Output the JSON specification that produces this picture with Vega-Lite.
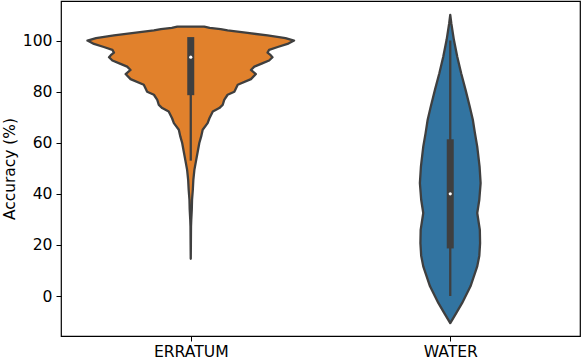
{
  "$schema": "https://vega.github.io/schema/vega-lite/v6.json",
  "width": 519,
  "height": 335,
  "autosize": {"type": "none"},
  "padding": {"left": 61, "top": 1, "right": 1, "bottom": 27},
  "background": "white",
  "config": {
    "view": {"stroke": "#000000", "strokeWidth": 1.2},
    "font": "DejaVu Sans"
  },
  "datasets": {
    "violin": [
      {"cat": "ERRATUM", "v": 14.6, "w": 0},
      {"cat": "ERRATUM", "v": 20, "w": 0.0005},
      {"cat": "ERRATUM", "v": 27.2, "w": 0.001},
      {"cat": "ERRATUM", "v": 30, "w": 0.002},
      {"cat": "ERRATUM", "v": 33.8, "w": 0.004},
      {"cat": "ERRATUM", "v": 37.7, "w": 0.005},
      {"cat": "ERRATUM", "v": 41.6, "w": 0.008},
      {"cat": "ERRATUM", "v": 45.5, "w": 0.010},
      {"cat": "ERRATUM", "v": 49.4, "w": 0.014},
      {"cat": "ERRATUM", "v": 52.7, "w": 0.020},
      {"cat": "ERRATUM", "v": 56.6, "w": 0.027},
      {"cat": "ERRATUM", "v": 59.9, "w": 0.033},
      {"cat": "ERRATUM", "v": 62.4, "w": 0.040},
      {"cat": "ERRATUM", "v": 65.1, "w": 0.046},
      {"cat": "ERRATUM", "v": 67.7, "w": 0.065},
      {"cat": "ERRATUM", "v": 69.6, "w": 0.072},
      {"cat": "ERRATUM", "v": 72.2, "w": 0.085},
      {"cat": "ERRATUM", "v": 73.6, "w": 0.110},
      {"cat": "ERRATUM", "v": 74.8, "w": 0.123},
      {"cat": "ERRATUM", "v": 76.8, "w": 0.129},
      {"cat": "ERRATUM", "v": 78.8, "w": 0.142},
      {"cat": "ERRATUM", "v": 80.0, "w": 0.168},
      {"cat": "ERRATUM", "v": 82.7, "w": 0.181},
      {"cat": "ERRATUM", "v": 84.9, "w": 0.232},
      {"cat": "ERRATUM", "v": 86.9, "w": 0.251},
      {"cat": "ERRATUM", "v": 88.5, "w": 0.232},
      {"cat": "ERRATUM", "v": 89.8, "w": 0.245},
      {"cat": "ERRATUM", "v": 91.0, "w": 0.273},
      {"cat": "ERRATUM", "v": 92.2, "w": 0.302},
      {"cat": "ERRATUM", "v": 93.5, "w": 0.315},
      {"cat": "ERRATUM", "v": 94.3, "w": 0.308},
      {"cat": "ERRATUM", "v": 95.3, "w": 0.296},
      {"cat": "ERRATUM", "v": 96.4, "w": 0.302},
      {"cat": "ERRATUM", "v": 97.5, "w": 0.335},
      {"cat": "ERRATUM", "v": 98.7, "w": 0.373},
      {"cat": "ERRATUM", "v": 100.0, "w": 0.398},
      {"cat": "ERRATUM", "v": 101.0, "w": 0.365},
      {"cat": "ERRATUM", "v": 102.0, "w": 0.296},
      {"cat": "ERRATUM", "v": 103.0, "w": 0.219},
      {"cat": "ERRATUM", "v": 104.0, "w": 0.142},
      {"cat": "ERRATUM", "v": 104.5, "w": 0.115},
      {"cat": "ERRATUM", "v": 105.0, "w": 0.073},
      {"cat": "ERRATUM", "v": 105.5, "w": 0.052},
      {"cat": "WATER", "v": -10.6, "w": 0},
      {"cat": "WATER", "v": -9.9, "w": 0.004},
      {"cat": "WATER", "v": -6.7, "w": 0.023},
      {"cat": "WATER", "v": -2.7, "w": 0.046},
      {"cat": "WATER", "v": 3.8, "w": 0.078},
      {"cat": "WATER", "v": 11.6, "w": 0.104},
      {"cat": "WATER", "v": 15.8, "w": 0.112},
      {"cat": "WATER", "v": 20.7, "w": 0.115},
      {"cat": "WATER", "v": 25.9, "w": 0.114},
      {"cat": "WATER", "v": 32.5, "w": 0.104},
      {"cat": "WATER", "v": 37.7, "w": 0.112},
      {"cat": "WATER", "v": 44.2, "w": 0.117},
      {"cat": "WATER", "v": 50.7, "w": 0.113},
      {"cat": "WATER", "v": 58.5, "w": 0.104},
      {"cat": "WATER", "v": 63.8, "w": 0.095},
      {"cat": "WATER", "v": 69.0, "w": 0.087},
      {"cat": "WATER", "v": 74.2, "w": 0.075},
      {"cat": "WATER", "v": 80.7, "w": 0.059},
      {"cat": "WATER", "v": 87.2, "w": 0.042},
      {"cat": "WATER", "v": 93.7, "w": 0.027},
      {"cat": "WATER", "v": 100.3, "w": 0.014},
      {"cat": "WATER", "v": 106.8, "w": 0.004},
      {"cat": "WATER", "v": 110.1, "w": 0}
    ],
    "box": [
      {"cat": "ERRATUM", "lo": 53, "q1": 80, "med": 93.5, "q3": 100, "hi": 100},
      {"cat": "WATER", "lo": 0, "q1": 20, "med": 40, "q3": 60, "hi": 100}
    ]
  },
  "layer": [
    {
      "data": {"name": "violin"},
      "transform": [
        {"calculate": "(datum.cat == 'ERRATUM' ? 0 : 1) - datum.w", "as": "left"},
        {"calculate": "(datum.cat == 'ERRATUM' ? 0 : 1) + datum.w", "as": "right"}
      ],
      "mark": {"type": "area", "orient": "horizontal", "stroke": "#3f3f3f", "strokeWidth": 2.3, "fillOpacity": 1, "strokeJoin": "round"},
      "encoding": {
        "y": {"field": "v", "type": "quantitative", "scale": {"domain": [-15.65, 115.5], "nice": false, "zero": false},
              "axis": {"values": [0, 20, 40, 60, 80, 100], "title": "Accuracy (%)", "titlePadding": 5, "grid": false, "domain": false,
                       "tickColor": "#000000", "tickSize": 5, "labelColor": "#000000", "labelFontSize": 15.6, "labelFont": "DejaVu Sans",
                       "labelPadding": 4, "titleColor": "#000000", "titleFontSize": 15.4, "titleFont": "DejaVu Sans", "titleFontWeight": "normal"}},
        "x": {"field": "left", "type": "quantitative", "stack": null, "scale": {"domain": [-0.5, 1.5], "nice": false, "zero": false},
              "axis": {"values": [0, 1], "labelExpr": "datum.value == 0 ? 'ERRATUM' : 'WATER'", "title": null, "grid": false, "domain": false,
                       "tickColor": "#000000", "tickSize": 5, "labelColor": "#000000", "labelFontSize": 15.6, "labelFont": "DejaVu Sans", "labelPadding": 3}},
        "x2": {"field": "right"},
        "color": {"field": "cat", "type": "nominal", "scale": {"domain": ["ERRATUM", "WATER"], "range": ["#e1812c", "#3274a1"]}, "legend": null}
      }
    },
    {
      "data": {"name": "box"},
      "transform": [{"calculate": "datum.cat == 'ERRATUM' ? 0 : 1", "as": "pos"}],
      "mark": {"type": "rule", "color": "#3f3f3f", "strokeWidth": 2.3},
      "encoding": {
        "x": {"field": "pos", "type": "quantitative", "title": null},
        "y": {"field": "lo", "type": "quantitative", "title": "Accuracy (%)"},
        "y2": {"field": "hi"}
      }
    },
    {
      "data": {"name": "box"},
      "transform": [{"calculate": "datum.cat == 'ERRATUM' ? 0 : 1", "as": "pos"}],
      "mark": {"type": "rule", "color": "#3f3f3f", "strokeWidth": 7, "strokeCap": "square"},
      "encoding": {
        "x": {"field": "pos", "type": "quantitative", "title": null},
        "y": {"field": "q1", "type": "quantitative", "title": "Accuracy (%)"},
        "y2": {"field": "q3"}
      }
    },
    {
      "data": {"name": "box"},
      "transform": [{"calculate": "datum.cat == 'ERRATUM' ? 0 : 1", "as": "pos"}],
      "mark": {"type": "point", "filled": true, "color": "white", "size": 10, "opacity": 1},
      "encoding": {
        "x": {"field": "pos", "type": "quantitative", "title": null},
        "y": {"field": "med", "type": "quantitative", "title": "Accuracy (%)"}
      }
    }
  ]
}
